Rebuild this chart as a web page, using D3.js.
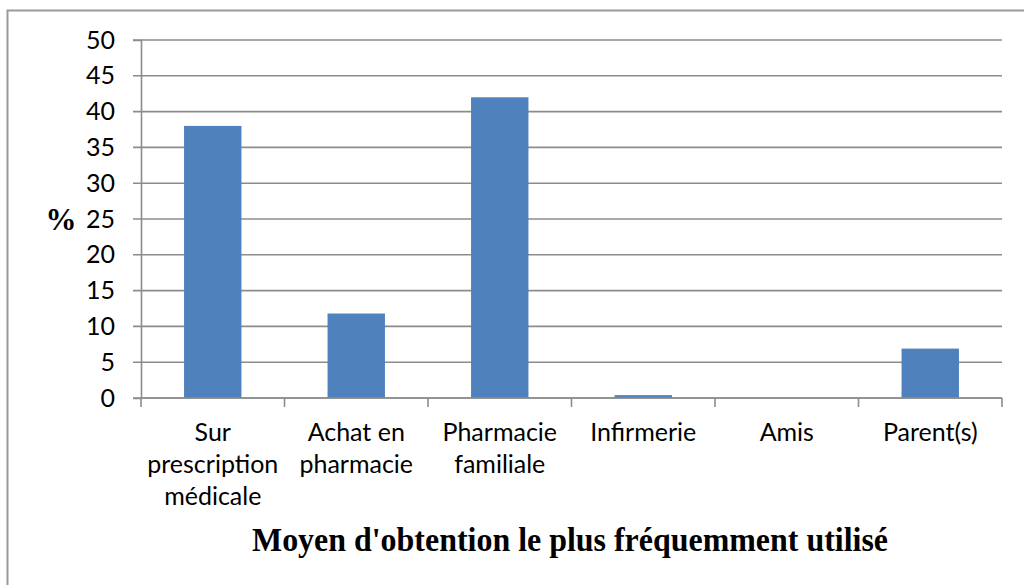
<!DOCTYPE html>
<html>
<head>
<meta charset="utf-8">
<script src="https://cdn.jsdelivr.net/npm/d3@7"></script>
<style>
  html, body { margin: 0; padding: 0; background: #fff; }
  svg { display: block; }
</style>
</head>
<body>
<svg id="chart"></svg>
<script>
// ===== DATA =====
const categories = ["Sur prescription médicale", "Achat en pharmacie", "Pharmacie familiale", "Infirmerie", "Amis", "Parent(s)"];
const labelLines = [["Sur", "prescription", "médicale"], ["Achat en", "pharmacie"], ["Pharmacie", "familiale"], ["Infirmerie"], ["Amis"], ["Parent(s)"]];
const values = [38, 11.8, 42, 0.4, 0, 6.9];
const yTicks = [0, 5, 10, 15, 20, 25, 30, 35, 40, 45, 50];
const yLabel = "%";
const xTitle = "Moyen d'obtention le plus fréquemment utilisé";

const width = 1024, height = 585;
const margin = { top: 40, right: 22, bottom: 187, left: 141 };
const plotW = width - margin.left - margin.right;   // 861
const plotH = height - margin.top - margin.bottom;  // 358

const svg = d3.select("svg#chart")
    .attr("width", width)
    .attr("height", height);

// outer frame (runs off the right / bottom of the picture)
svg.append("rect")
    .attr("x", 7.5).attr("y", 10.5)
    .attr("width", width + 20).attr("height", height + 20)
    .attr("fill", "none")
    .attr("stroke", "#9a9a9a")
    .attr("stroke-width", 2);

const x = d3.scaleBand()
    .domain(categories)
    .range([margin.left, margin.left + plotW])
    .paddingInner(0.6)
    .paddingOuter(0.3);

const y = d3.scaleLinear()
    .domain([0, 50])
    .range([margin.top + plotH, margin.top]);

const gridColor = "#8c8c8c";

// ===== GRID =====
svg.append("g")
    .selectAll("line")
    .data(yTicks)
    .join("line")
    .attr("x1", margin.left - 8)
    .attr("x2", margin.left + plotW)
    .attr("y1", d => y(d))
    .attr("y2", d => y(d))
    .attr("stroke", gridColor)
    .attr("stroke-width", 1.6);

// ===== Y AXIS =====
const yAxis = svg.append("g")
    .attr("transform", `translate(${margin.left},0)`)
    .call(d3.axisLeft(y).tickValues(yTicks).tickSize(8).tickPadding(18));
yAxis.select(".domain").attr("stroke", gridColor).attr("stroke-width", 1.6);
yAxis.selectAll(".tick line").attr("stroke", "none");
yAxis.selectAll(".tick text")
    .attr("fill", "#000")
    .attr("font-family", "Lato, 'Open Sans', sans-serif")
    .attr("font-size", 25);

// ===== BARS =====
svg.append("g")
    .selectAll("rect")
    .data(values)
    .join("rect")
    .attr("x", (d, i) => x(categories[i]))
    .attr("width", x.bandwidth())
    .attr("y", d => y(d))
    .attr("height", d => y(0) - y(d))
    .attr("fill", "#4f81bd");

// ===== X AXIS =====
const base = y(0);
svg.append("line")
    .attr("x1", margin.left).attr("x2", margin.left + plotW)
    .attr("y1", base).attr("y2", base)
    .attr("stroke", gridColor).attr("stroke-width", 1.6);

const bounds = d3.range(categories.length + 1).map(i => margin.left + i * x.step());
svg.append("g")
    .selectAll("line")
    .data(bounds)
    .join("line")
    .attr("x1", d => d).attr("x2", d => d)
    .attr("y1", base).attr("y2", base + 9)
    .attr("stroke", gridColor)
    .attr("stroke-width", 1.6);

const labels = svg.append("g")
    .selectAll("text")
    .data(categories)
    .join("text")
    .attr("text-anchor", "middle")
    .attr("font-family", "Lato, 'Open Sans', sans-serif")
    .attr("font-size", 25)
    .attr("fill", "#000")
    .attr("transform", d => `translate(${x(d) + x.bandwidth() / 2},${base + 43})`);

labels.selectAll("tspan")
    .data((d, i) => labelLines[i])
    .join("tspan")
    .attr("x", 0)
    .attr("y", (d, i) => i * 32)
    .text(d => d);

// ===== TITLES =====
svg.append("text")
    .attr("x", 61)
    .attr("y", 230)
    .attr("text-anchor", "middle")
    .attr("font-family", "'Liberation Serif', 'Times New Roman', serif")
    .attr("font-weight", "bold")
    .attr("font-size", 31)
    .text(yLabel);

svg.append("text")
    .attr("x", 570)
    .attr("y", 551)
    .attr("text-anchor", "middle")
    .attr("font-family", "'Liberation Serif', 'Times New Roman', serif")
    .attr("font-weight", "bold")
    .attr("font-size", 33)
    .attr("textLength", 636)
    .attr("lengthAdjust", "spacingAndGlyphs")
    .text(xTitle);
</script>
</body>
</html>
